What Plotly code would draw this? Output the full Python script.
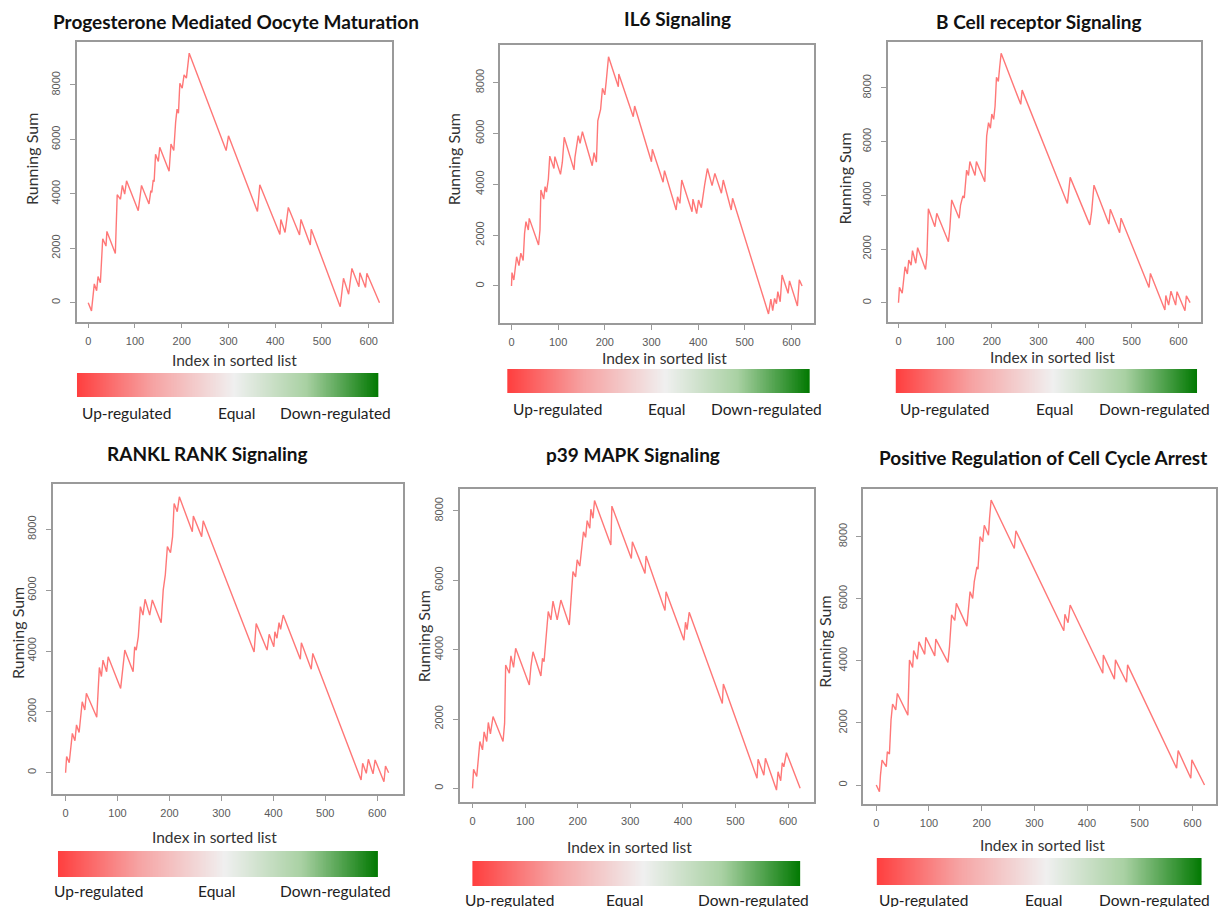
import plotly.graph_objects as go

W, H = 1218, 907

titles = ["Progesterone Mediated Oocyte Maturation", "IL6 Signaling",
          "B Cell receptor Signaling", "RANKL RANK Signaling",
          "p39 MAPK Signaling", "Positive Regulation of Cell Cycle Arrest"]

x_ticks = [0, 100, 200, 300, 400, 500, 600]
y_ticks = [0, 2000, 4000, 6000, 8000]
bar_labels = ["Up-regulated", "Equal", "Down-regulated"]
x_title = "Index in sorted list"
y_title = "Running Sum"

# --- running-sum vertices ---
p1_idx = [0, 7, 13, 18, 21, 26, 31, 38, 40, 58, 62, 69, 73, 78, 82, 107, 114, 130, 134, 136, 139, 141, 144, 150, 153,
          173, 177, 183, 187, 190, 193, 196, 201, 205, 210, 216, 295, 300, 362, 367, 410, 412, 421, 428, 452, 455,
          475, 477, 539, 546, 557, 564, 579, 581, 593, 596, 623]
p1_sum = [0, -300, 690, 440, 960, 735, 2350, 2080, 2620, 1810, 3970, 3800, 4310, 3990, 4480, 3380, 4310, 3630, 4120,
          4050, 4510, 4450, 5450, 5190, 5710, 4830, 5830, 5590, 6640, 7110, 6960, 8060, 7880, 8370, 8250, 9170, 5590,
          6130, 3350, 4330, 2510, 3060, 2580, 3500, 2490, 3060, 2120, 2700, -150, 900, 310, 1260, 590, 1100, 560,
          1080, 0]

p2_idx = [0, 1, 5, 9, 11, 16, 20, 25, 28, 31, 36, 38, 58, 61, 63, 69, 72, 75, 79, 82, 91, 93, 105, 109, 113, 134, 136,
          143, 147, 152, 173, 177, 182, 185, 191, 195, 200, 203, 208, 229, 230, 261, 264, 300, 302, 325, 328, 353,
          356, 361, 365, 387, 389, 397, 401, 407, 410, 414, 420, 430, 436, 450, 454, 471, 474, 551, 556, 560, 564,
          568, 571, 576, 580, 593, 596, 613, 617, 623]
p2_sum = [0, 525, 236, 760, 1150, 800, 1290, 1000, 2070, 2530, 2200, 2660, 1610, 2200, 3780, 3420, 3910, 3690, 4210,
          5110, 4620, 5090, 4390, 4870, 5850, 4570, 5060, 5910, 5610, 6070, 4730, 5250, 4870, 6500, 6950, 7780, 7520,
          8040, 9020, 7840, 8340, 6660, 7080, 4890, 5380, 4080, 4540, 2990, 3510, 3250, 4170, 2920, 3420, 2850, 3380,
          3080, 3510, 3970, 4620, 3950, 4430, 3650, 4170, 2990, 3450, -1100, -520, -970, -490, -700, -220, -620,
          430, -290, 200, -790, 240, 0]

p3_idx = [0, 2, 8, 11, 14, 19, 22, 27, 30, 37, 41, 58, 61, 64, 78, 82, 107, 110, 114, 130, 133, 138, 141, 146, 150,
          153, 164, 167, 185, 189, 193, 197, 200, 204, 207, 210, 214, 217, 220, 262, 265, 362, 368, 410, 414, 419,
          451, 454, 474, 477, 537, 540, 571, 573, 579, 584, 594, 597, 614, 617, 625]
p3_sum = [0, 570, 350, 870, 1340, 1070, 1590, 1400, 1940, 1470, 2050, 1240, 1780, 3500, 2830, 3330, 2270, 2770, 3830,
          3150, 3640, 3980, 3900, 4940, 4740, 5260, 4740, 5260, 4510, 6210, 6710, 6500, 7030, 6830, 7330, 8400, 8240,
          8800, 9290, 7390, 7920, 3700, 4670, 2900, 3390, 4380, 2930, 3480, 2610, 3150, 570, 1090, -270, 270, -90,
          430, -90, 410, -300, 260, 0]

p4_idx = [0, 2, 7, 10, 13, 18, 21, 26, 29, 32, 37, 40, 60, 62, 65, 69, 72, 79, 82, 106, 109, 114, 130, 133, 136, 140,
          144, 149, 153, 162, 167, 184, 188, 192, 196, 202, 206, 209, 215, 219, 244, 246, 262, 265, 363, 367, 388,
          392, 401, 403, 407, 411, 414, 419, 452, 454, 473, 476, 569, 572, 579, 583, 592, 596, 613, 616, 622]
p4_sum = [0, 530, 330, 850, 1290, 1050, 1570, 1320, 1840, 2330, 2060, 2610, 1820, 2390, 3460, 3160, 3700, 3320, 3810,
          2770, 3210, 4030, 3320, 4140, 4030, 4470, 5460, 5180, 5700, 5180, 5680, 4930, 6010, 6500, 7430, 7230, 7760,
          8850, 8580, 9070, 7920, 8440, 7760, 8280, 3970, 4900, 4030, 4550, 4140, 4630, 4420, 4930, 4710, 5180, 3730,
          4270, 3400, 3920, -240, 310, -20, 440, -40, 420, -300, 220, 0]

p5_idx = [0, 2, 8, 11, 14, 19, 22, 27, 30, 34, 39, 58, 61, 63, 70, 73, 78, 82, 108, 111, 115, 130, 133, 136, 139, 144,
          149, 153, 161, 168, 184, 187, 191, 196, 199, 204, 208, 211, 215, 218, 223, 225, 229, 232, 263, 265, 302,
          304, 328, 330, 366, 368, 402, 405, 408, 412, 475, 477, 541, 543, 554, 557, 578, 581, 586, 589, 592, 597,
          623]
p5_sum = [0, 550, 340, 840, 1350, 1110, 1630, 1350, 1900, 1570, 2070, 1350, 1880, 3560, 3320, 3820, 3490, 4040, 2980,
          3510, 3940, 3240, 3750, 3650, 4210, 5100, 4860, 5400, 4860, 5430, 4710, 5340, 6250, 6100, 6590, 6410, 6880,
          7400, 7240, 7720, 7500, 8050, 7790, 8300, 7020, 8140, 6630, 7110, 6200, 6700, 5130, 5670, 4270, 4790, 4580,
          5080, 2450, 3010, 290, 840, 380, 870, -50, 480, 220, 740, 620, 1030, 0]

p6_idx = [0, 6, 8, 11, 19, 21, 25, 28, 31, 37, 40, 60, 63, 69, 71, 78, 81, 92, 94, 111, 113, 136, 139, 143, 149, 152,
          172, 175, 178, 183, 186, 191, 193, 197, 202, 205, 213, 215, 218, 262, 265, 356, 358, 364, 368, 430, 431,
          452, 454, 475, 477, 570, 573, 597, 599, 623]
p6_sum = [0, -215, 320, 800, 590, 1070, 1000, 2090, 2610, 2420, 2950, 2250, 4030, 3790, 4330, 4050, 4610, 4210, 4760,
          4160, 4700, 3950, 4460, 5480, 5300, 5850, 5120, 5640, 6230, 6010, 6550, 7030, 6950, 8000, 7840, 8370, 8050,
          8590, 9180, 7620, 8190, 4970, 5500, 5230, 5800, 3600, 4190, 3410, 4030, 3310, 3870, 540, 1110, 215, 810, 0]

series_idx = [p1_idx, p2_idx, p3_idx, p4_idx, p5_idx, p6_idx]
series_sum = [p1_sum, p2_sum, p3_sum, p4_sum, p5_sum, p6_sum]

gradient_steps = list(range(201))  # steps of the colour ramp

# --- geometry (pixels) ---
boxes = [(76.7, 42.3, 392.3, 321.7), (501, 45, 815, 323.3), (889, 42.3, 1202.7, 321.7),
         (52.7, 484, 403.3, 794), (460.3, 489.3, 815, 801.7), (864.3, 488.7, 1218, 804)]
xranges = [(-24.9, 649), (-24.3, 647.8), (-23.5, 647.8), (-25, 649), (-24.7, 648.7), (-25.4, 644.8)]
yranges = [(-698, 9568), (-1469, 9482), (-708, 9702), (-701, 9490), (-385, 8625), (-612, 9546)]
bars = [(77, 373, 379, 397), (508, 369, 811, 393), (897, 369, 1199, 393),
        (58, 851, 379, 877), (473, 861, 802, 886), (878, 858, 1204, 885)]
label_x = [(127, 237, 336), (558, 668, 768), (946, 1056, 1156), (99, 217, 336), (510, 626, 755), (925, 1045, 1156)]
label_y = [413, 409, 409, 891, 900, 900]
title_pos = [(236, 22), (679, 18), (1041, 22), (208, 453), (634, 455), (1045, 457)]
xt_pos = [(235, 360), (666, 358), (1054, 357), (215, 837), (631, 847), (1044, 845)]
yt_pos = [(32, 159), (455, 159), (846, 179), (17, 633), (424, 636), (825, 642)]

ramp = [[0.0, "#ff3f3f"], [0.25, "#f6a3a3"], [0.52, "#f0f0f0"], [0.76, "#a9d1a3"], [1.0, "#007800"]]


def px(x):
    return x / W


def py(y):
    return 1 - y / H


fig = go.Figure()
layout = dict(width=W, height=H, margin=dict(l=0, r=0, t=0, b=0),
              paper_bgcolor="white", plot_bgcolor="white", showlegend=False)
annotations = []
BF = "Lato"
TF = "Liberation Sans"

for i in range(6):
    n = i + 1
    L, T, R, B = boxes[i]
    fig.add_trace(go.Scatter(x=series_idx[i], y=series_sum[i], mode="lines",
                             line=dict(color="rgba(255,95,95,0.85)", width=1.4),
                             xaxis=f"x{n}", yaxis=f"y{n}", hoverinfo="skip"))
    axstyle = dict(showgrid=False, zeroline=False, showline=True, linecolor="#9a9a9a", linewidth=1.5,
                   mirror=True, ticks="outside", ticklen=5, tickcolor="#9a9a9a", tickwidth=1.2,
                   tickfont=dict(family=TF, size=11, color="#5a5a5a"))
    layout[f"xaxis{n}"] = dict(axstyle, domain=[px(L), min(px(R), 1.0)], range=list(xranges[i]),
                               anchor=f"y{n}", tickvals=x_ticks, ticklabelstandoff=3)
    layout[f"yaxis{n}"] = dict(axstyle, domain=[py(B), py(T)], range=list(yranges[i]),
                               anchor=f"x{n}", tickvals=y_ticks, tickangle=-90, ticklabelstandoff=5)

    # colour bar
    m = i + 7
    bL, bT, bR, bB = bars[i]
    fig.add_trace(go.Heatmap(z=[gradient_steps], colorscale=ramp, showscale=False, zsmooth="best",
                             xaxis=f"x{m}", yaxis=f"y{m}", hoverinfo="skip"))
    layout[f"xaxis{m}"] = dict(domain=[px(bL), px(bR)], anchor=f"y{m}", visible=False,
                               range=[0, len(gradient_steps) - 1])
    layout[f"yaxis{m}"] = dict(domain=[py(bB), py(bT)], anchor=f"x{m}", visible=False, range=[-0.5, 0.5])

    for k in range(3):
        annotations.append(dict(x=px(label_x[i][k]), y=py(label_y[i]), xref="paper", yref="paper",
                                text=bar_labels[k], showarrow=False, xanchor="center", yanchor="middle",
                                font=dict(family=BF, size=15.5, color="#222222")))
    annotations.append(dict(x=px(title_pos[i][0]), y=py(title_pos[i][1]), xref="paper", yref="paper",
                            text=f"<b>{titles[i]}</b>", showarrow=False, xanchor="center", yanchor="middle",
                            font=dict(family=BF, size=19, color="#111111")))
    annotations.append(dict(x=px(xt_pos[i][0]), y=py(xt_pos[i][1]), xref="paper", yref="paper",
                            text=x_title, showarrow=False, xanchor="center", yanchor="middle",
                            font=dict(family=BF, size=15.5, color="#333333")))
    annotations.append(dict(x=px(yt_pos[i][0]), y=py(yt_pos[i][1]), xref="paper", yref="paper",
                            text=y_title, showarrow=False, xanchor="center", yanchor="middle", textangle=-90,
                            font=dict(family=BF, size=16, color="#333333")))

layout["annotations"] = annotations
fig.update_layout(**layout)
fig.write_html("out.html", config={"displayModeBar": False},
               post_script="document.body.style.margin='0';document.body.style.overflow='hidden';")
